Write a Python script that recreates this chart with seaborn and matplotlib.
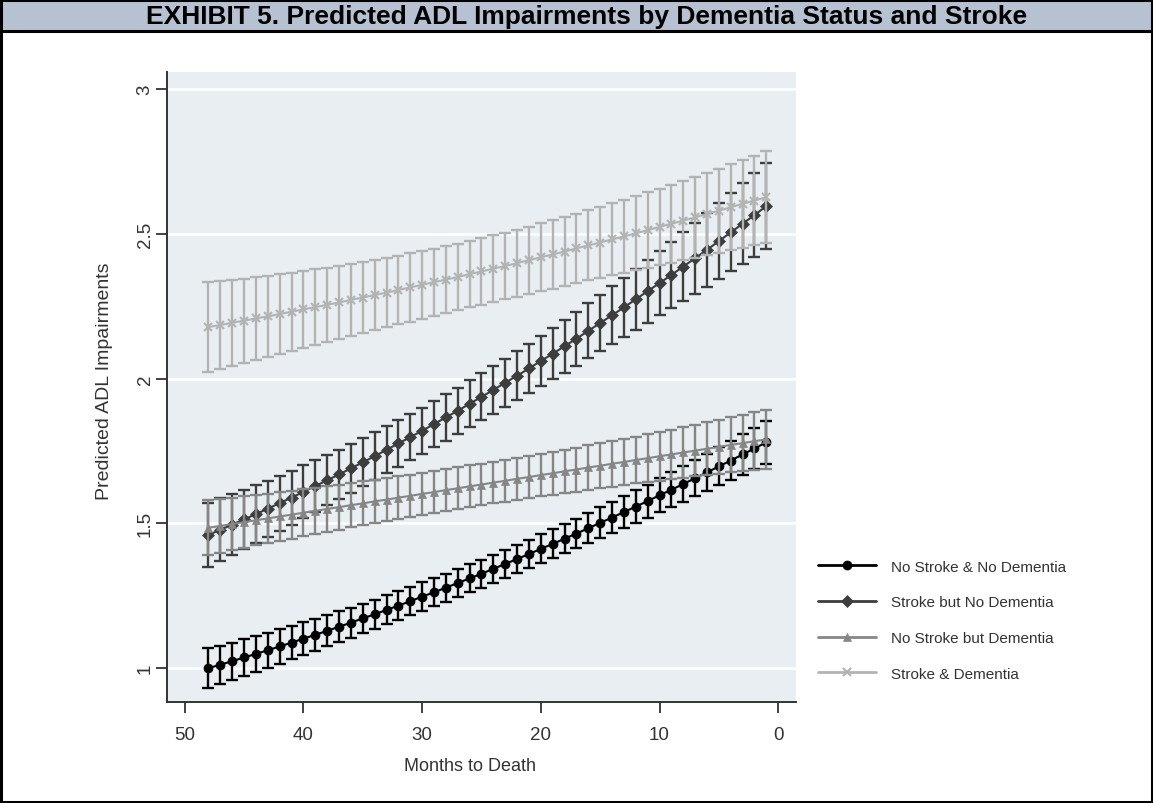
import matplotlib
matplotlib.use("Agg")
import matplotlib.pyplot as plt
from matplotlib.lines import Line2D
from matplotlib.patches import Rectangle
import numpy as np
import pandas as pd
import seaborn as sns

# Months before death (48 down to 1)
months = list(range(48, 0, -1))

series_names = [
    "No Stroke & No Dementia",
    "Stroke but No Dementia",
    "No Stroke but Dementia",
    "Stroke & Dementia",
]

# Predicted number of ADL impairments, month 48 -> month 1
no_stroke_no_dementia = [
    1.000, 1.012, 1.024, 1.037, 1.049, 1.062, 1.075, 1.088, 1.102, 1.115,
    1.129, 1.143, 1.157, 1.172, 1.186, 1.201, 1.216, 1.231, 1.247, 1.262,
    1.278, 1.294, 1.310, 1.326, 1.343, 1.360, 1.377, 1.394, 1.412, 1.429,
    1.447, 1.465, 1.483, 1.502, 1.520, 1.539, 1.558, 1.577, 1.597, 1.616,
    1.636, 1.656, 1.676, 1.697, 1.717, 1.738, 1.759, 1.780,
]
stroke_no_dementia = [
    1.460, 1.478, 1.496, 1.514, 1.532, 1.551, 1.570, 1.589, 1.609, 1.629,
    1.649, 1.669, 1.690, 1.711, 1.732, 1.754, 1.776, 1.798, 1.820, 1.843,
    1.866, 1.889, 1.913, 1.937, 1.961, 1.986, 2.010, 2.035, 2.061, 2.086,
    2.112, 2.138, 2.165, 2.192, 2.219, 2.246, 2.274, 2.302, 2.330, 2.358,
    2.387, 2.416, 2.445, 2.475, 2.505, 2.535, 2.565, 2.596,
]
no_stroke_dementia = [
    1.485, 1.491, 1.498, 1.504, 1.511, 1.517, 1.524, 1.530, 1.537, 1.543,
    1.550, 1.556, 1.563, 1.569, 1.576, 1.582, 1.589, 1.595, 1.602, 1.608,
    1.615, 1.621, 1.628, 1.634, 1.641, 1.647, 1.654, 1.660, 1.667, 1.673,
    1.680, 1.686, 1.693, 1.699, 1.706, 1.712, 1.719, 1.725, 1.732, 1.738,
    1.745, 1.751, 1.758, 1.764, 1.771, 1.777, 1.784, 1.790,
]
stroke_dementia = [
    2.178, 2.185, 2.193, 2.200, 2.208, 2.215, 2.223, 2.231, 2.239, 2.247,
    2.255, 2.263, 2.272, 2.280, 2.289, 2.297, 2.306, 2.315, 2.324, 2.333,
    2.342, 2.351, 2.361, 2.370, 2.380, 2.389, 2.399, 2.409, 2.419, 2.429,
    2.439, 2.450, 2.460, 2.470, 2.481, 2.491, 2.502, 2.513, 2.524, 2.535,
    2.546, 2.557, 2.569, 2.580, 2.592, 2.604, 2.615, 2.627,
]

# Half-widths of the 95% confidence intervals
ci_no_stroke_no_dementia = [
    0.068, 0.066, 0.064, 0.063, 0.061, 0.060, 0.059, 0.057, 0.056, 0.055,
    0.054, 0.053, 0.052, 0.051, 0.051, 0.050, 0.050, 0.049, 0.049, 0.048,
    0.048, 0.048, 0.048, 0.048, 0.048, 0.048, 0.049, 0.049, 0.050, 0.050,
    0.051, 0.051, 0.052, 0.053, 0.054, 0.055, 0.056, 0.057, 0.059, 0.060,
    0.061, 0.063, 0.064, 0.066, 0.068, 0.070, 0.072, 0.074,
]
ci_stroke_no_dementia = [
    0.112, 0.109, 0.106, 0.103, 0.100, 0.097, 0.095, 0.093, 0.091, 0.089,
    0.087, 0.086, 0.084, 0.083, 0.082, 0.081, 0.081, 0.080, 0.080, 0.080,
    0.080, 0.080, 0.081, 0.081, 0.082, 0.083, 0.084, 0.086, 0.087, 0.089,
    0.091, 0.093, 0.095, 0.097, 0.100, 0.103, 0.106, 0.109, 0.112, 0.115,
    0.119, 0.123, 0.127, 0.131, 0.135, 0.140, 0.145, 0.150,
]
ci_no_stroke_dementia = [
    0.095, 0.093, 0.091, 0.089, 0.087, 0.086, 0.084, 0.083, 0.081, 0.080,
    0.079, 0.078, 0.077, 0.076, 0.075, 0.074, 0.074, 0.073, 0.073, 0.072,
    0.072, 0.072, 0.072, 0.072, 0.072, 0.072, 0.073, 0.073, 0.074, 0.074,
    0.075, 0.076, 0.077, 0.078, 0.079, 0.080, 0.081, 0.083, 0.084, 0.086,
    0.087, 0.089, 0.091, 0.093, 0.095, 0.097, 0.099, 0.102,
]
ci_stroke_dementia = [
    0.155, 0.152, 0.148, 0.145, 0.142, 0.140, 0.137, 0.134, 0.132, 0.130,
    0.128, 0.126, 0.124, 0.123, 0.121, 0.120, 0.119, 0.118, 0.117, 0.116,
    0.116, 0.115, 0.115, 0.115, 0.115, 0.115, 0.116, 0.116, 0.117, 0.118,
    0.119, 0.120, 0.121, 0.123, 0.124, 0.126, 0.128, 0.130, 0.132, 0.134,
    0.137, 0.140, 0.142, 0.145, 0.148, 0.152, 0.155, 0.159,
]

x_ticks = [50, 40, 30, 20, 10, 0]
y_ticks = [1, 1.5, 2, 2.5, 3]
y_tick_labels = ["1", "1.5", "2", "2.5", "3"]

values = [no_stroke_no_dementia, stroke_no_dementia, no_stroke_dementia, stroke_dementia]
cis = [ci_no_stroke_no_dementia, ci_stroke_no_dementia, ci_no_stroke_dementia, ci_stroke_dementia]

df = pd.concat(
    [
        pd.DataFrame({"month": months, "adl": v, "ci": c, "group": name})
        for name, v, c in zip(series_names, values, cis)
    ],
    ignore_index=True,
)

colors = ["#000000", "#3d3d3d", "#868686", "#b3b3b3"]
markers = ["o", "D", "^", "x"]
marker_sizes = [6.5, 6.0, 6.0, 6.0]

sns.set_theme(style="white")
plt.rcParams["font.family"] = ["Liberation Sans", "DejaVu Sans"]

fig = plt.figure(figsize=(11.53, 8.04), dpi=100)
ax = fig.add_axes([0.1448, 0.1256, 0.5456, 0.7836])
ax.set_facecolor("#e8eef1")

for i, name in enumerate(series_names):
    sub = df[df["group"] == name]
    ax.errorbar(
        sub["month"], sub["adl"], yerr=sub["ci"], fmt="none",
        ecolor=colors[i], elinewidth=1.7, capsize=4.3, capthick=1.7,
        zorder=3 + 2 * i,
    )
    sns.lineplot(
        data=sub, x="month", y="adl", ax=ax, color=colors[i],
        marker=markers[i], markersize=marker_sizes[i],
        markeredgecolor=colors[i], markeredgewidth=1.5 if markers[i] == "x" else 0.5,
        linewidth=1.5, legend=False, zorder=4 + 2 * i,
    )

ax.set_xlim(51.5, -1.5)
ax.set_ylim(0.883, 3.059)
ax.set_xticks(x_ticks)
ax.set_xticklabels([str(t) for t in x_ticks])
ax.set_yticks(y_ticks)
ax.set_yticklabels(y_tick_labels, rotation=90, va="center")

ax.yaxis.grid(True, color="white", linewidth=1.8)
ax.xaxis.grid(False)
ax.set_axisbelow(True)

for side in ["top", "right"]:
    ax.spines[side].set_visible(False)
for side in ["left", "bottom"]:
    ax.spines[side].set_color("#333333")
    ax.spines[side].set_linewidth(1.4)

ax.tick_params(axis="both", direction="out", length=8, width=1.3,
               color="#333333", labelcolor="#333333", labelsize=13.5)
ax.tick_params(axis="x", bottom=True, pad=9)
ax.tick_params(axis="y", left=True, pad=1.5)

ax.set_xlabel("Months to Death", fontsize=13, color="#333333")
ax.xaxis.set_label_coords(0.4817, -0.087)
ax.set_ylabel("Predicted ADL Impairments", fontsize=14, color="#333333")
ax.yaxis.set_label_coords(-0.086, 0.51)

handles = [
    Line2D([0], [0], color=colors[i], marker=markers[i], markersize=marker_sizes[i],
           markeredgecolor=colors[i], markeredgewidth=1.5 if markers[i] == "x" else 0.5,
           linewidth=2)
    for i in range(len(series_names))
]
fig.legend(
    handles, series_names, loc="upper left",
    bbox_to_anchor=(810 / 1153, 1 - 553 / 804),
    frameon=False, fontsize=11, labelcolor="#333333",
    handlelength=3.8, handletextpad=1.0, labelspacing=1.42, borderpad=0,
)

# Header band and outer frame
fig.patches.append(Rectangle((0, 1 - 32 / 804), 1, 32 / 804, transform=fig.transFigure,
                             facecolor="#b6c2d2", edgecolor="black", linewidth=2.2))
fig.patches.append(Rectangle((0.0009, 0.0012), 0.9982, 0.9976, transform=fig.transFigure,
                             fill=False, edgecolor="black", linewidth=2.2))
fig.text(0.509, 1 - 17 / 804,
         "EXHIBIT 5. Predicted ADL Impairments by Dementia Status and Stroke",
         ha="center", va="center", fontsize=19, fontweight="bold", color="black")

fig.savefig("out.png", dpi=100)
